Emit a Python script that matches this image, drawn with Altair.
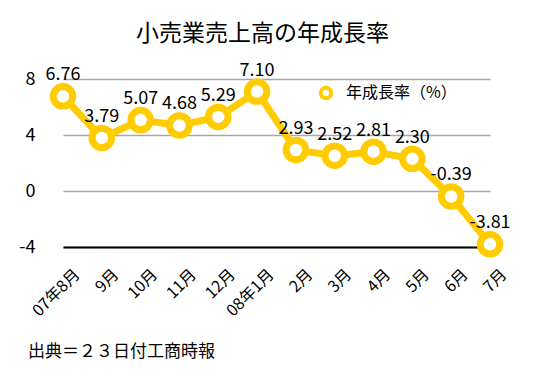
import altair as alt
import pandas as pd

months = ["07年8月", "9月", "10月", "11月", "12月", "08年1月", "2月", "3月", "4月", "5月", "6月", "7月"]
growth = [6.76, 3.79, 5.07, 4.68, 5.29, 7.10, 2.93, 2.52, 2.81, 2.30, -0.39, -3.81]
labels = ["6.76", "3.79", "5.07", "4.68", "5.29", "7.10", "2.93", "2.52", "2.81", "2.30", "-0.39", "-3.81"]
series_name = "年成長率（%）"
title_text = "小売業売上高の年成長率"
source_text = "出典＝２３日付工商時報"

FONT = "Noto Sans CJK JP"
YELLOW = "#FFCC00"

df = pd.DataFrame({"month": months, "growth": growth, "label": labels, "series": series_name})

x_enc = alt.X("month:N", sort=months, scale=alt.Scale(padding=0),
              axis=alt.Axis(title=None, labelAngle=-45, labelFontSize=16, labelFont=FONT,
                            labelColor="black", ticks=False, domainColor="black",
                            domainWidth=2, labelPadding=19, labelOffset=8, grid=False))
y_enc = alt.Y("growth:Q", scale=alt.Scale(domain=[-4, 8], nice=False, zero=False),
              axis=alt.Axis(title=None, values=[-4, 0, 4, 8], labelFontSize=18, labelFont=FONT,
                            labelColor="black", ticks=False, domain=False, labelPadding=28,
                            labelExpr="datum.value + ''",
                            gridColor="#A6A6A6", gridWidth=1.5))

base = alt.Chart(df)

line = base.mark_line(color=YELLOW, strokeWidth=7).encode(x=x_enc, y=y_enc)

points = base.mark_point(filled=False, fill="white", fillOpacity=1, strokeWidth=7, size=380,
                         shape="circle", opacity=1).encode(
    x=alt.X("month:N", sort=months),
    y="growth:Q",
    color=alt.Color("series:N", scale=alt.Scale(range=[YELLOW]),
                    legend=alt.Legend(title=None, orient="none", legendX=255, legendY=6,
                                      labelFontSize=16, labelFont=FONT, labelColor="black",
                                      labelOffset=12,
                                      symbolType="circle", symbolSize=110, symbolStrokeWidth=4,
                                      symbolFillColor="white")),
)

text = base.mark_text(fontSize=18, font=FONT, color="black", dy=-21).encode(
    x=alt.X("month:N", sort=months), y="growth:Q", text="label:N")

src = alt.Chart(pd.DataFrame({"t": [source_text]})).mark_text(
    align="left", baseline="middle", fontSize=17, font=FONT, color="black").encode(
    x=alt.value(-35), y=alt.value(273), text="t:N")

chart = alt.layer(line, points, text, src).properties(
    width=427, height=168,
    title=alt.TitleParams(title_text, fontSize=23, font=FONT, fontWeight="normal",
                          color="black", anchor="middle", offset=16, dx=-14),
    autosize="none",
    padding={"left": 55, "top": 71, "right": 40, "bottom": 125},
).configure_view(stroke=None)

chart.save("out.html", embed_options={"renderer": "svg", "actions": False})
